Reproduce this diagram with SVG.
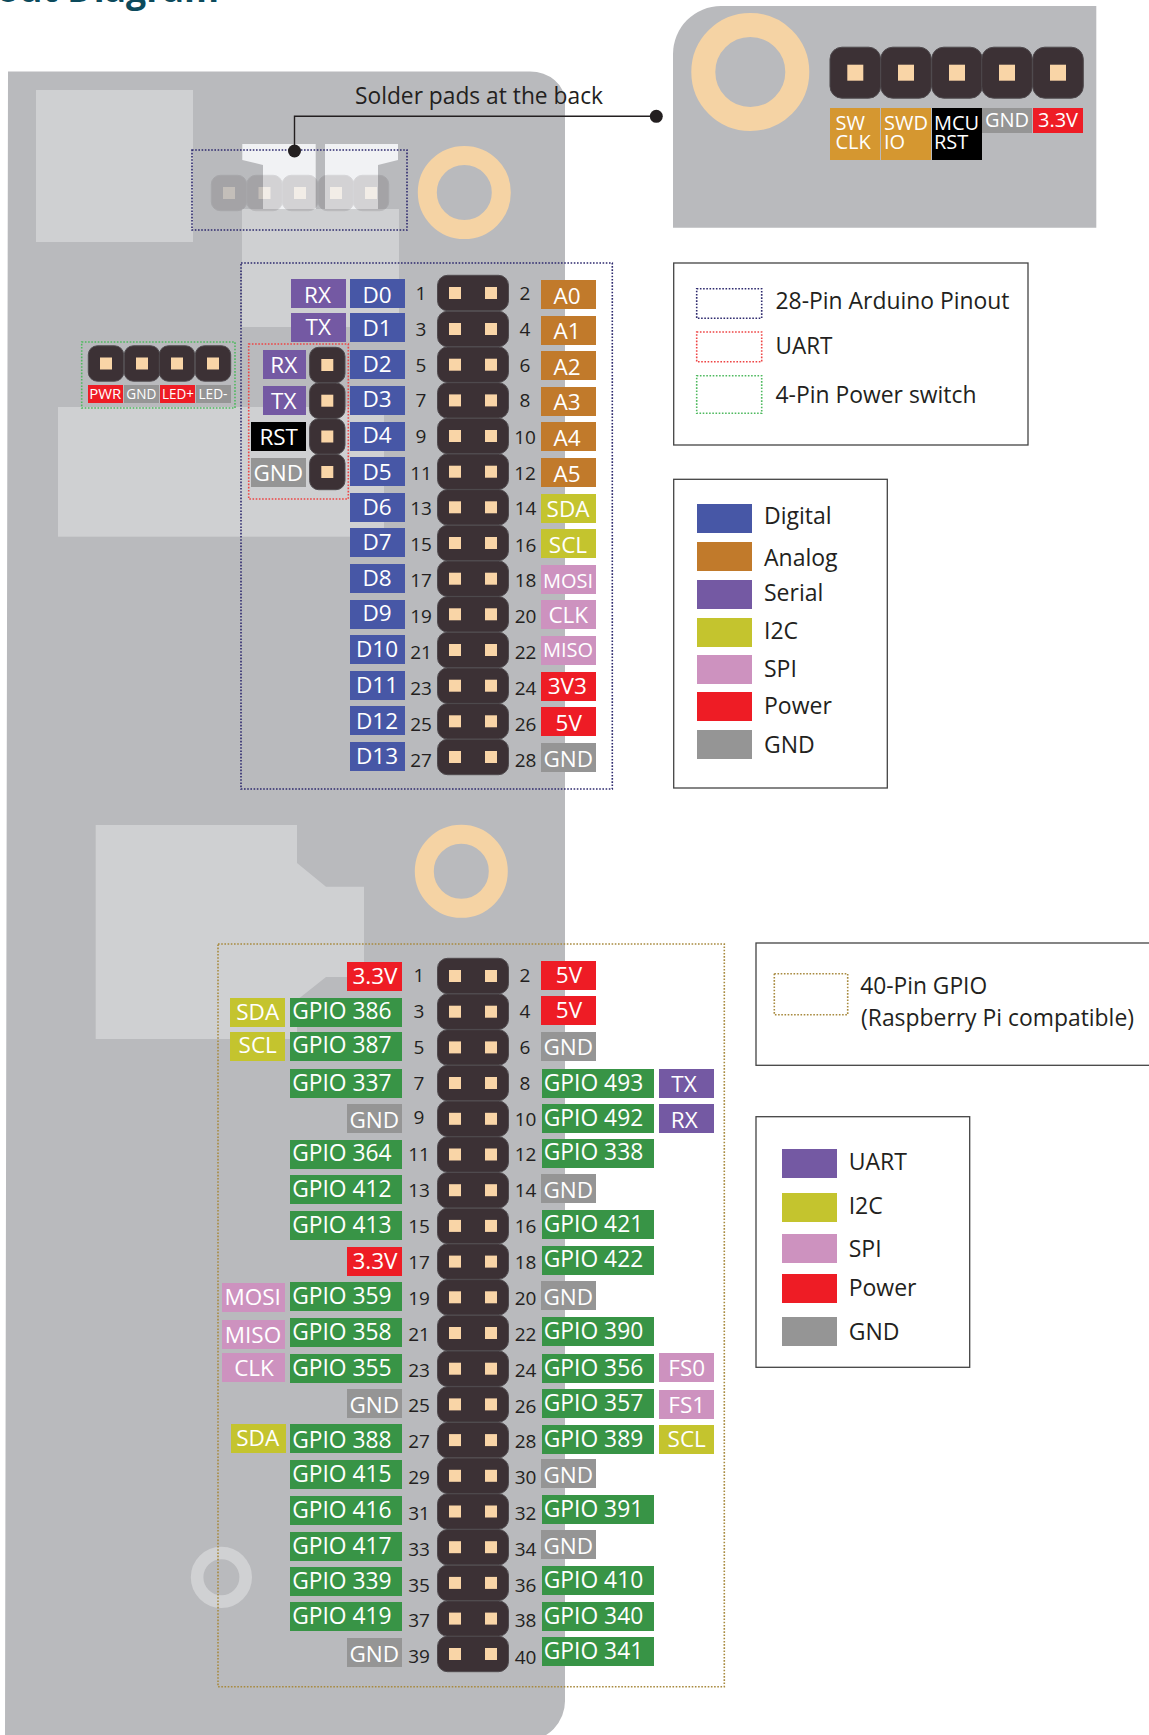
<svg xmlns="http://www.w3.org/2000/svg" xmlns:xlink="http://www.w3.org/1999/xlink" width="1149" height="1735" viewBox="0 0 1149 1735">
<style>
text{font-family:"Open Sans","Noto Sans","Liberation Sans",sans-serif}
.board{fill:#b9babd}
.lite{fill:#cfd0d2}
.wht{fill:#f1f2f4}
.ring{fill:none;stroke:#f5d3a4}
.pu{fill:#7459a3}.bl{fill:#4757a6}.or{fill:#c17a2b}.ye{fill:#c4c42e}.pk{fill:#cd92bf}.rd{fill:#ee1c25}.gy{fill:#959595}.gr{fill:#389446}.bk{fill:#000}.sw{fill:#d59730}
.w{fill:#fff;font-size:22.500px;text-anchor:middle}
.g{fill:#fff;font-size:22.800px}
.s{fill:#fff;font-size:20px;text-anchor:middle}
.m{fill:#fff;font-size:14px;text-anchor:middle}
.c{fill:#fff;font-size:20px}
.n{fill:#231f20;font-size:19px;text-anchor:middle}
.t{fill:#231f20;font-size:23px}
.box{fill:#fff;stroke:#444;stroke-width:1.3}
.d{fill:none;stroke-width:1.600;stroke-dasharray:1.600 1.600}
.navy{stroke:#2e2a6e}.red{stroke:#ee4444}.grn{stroke:#4fb95f}.gld{stroke:#a88a3f}
.hd{fill:#3c3135;stroke:#4f4a4e;stroke-width:1}
.pad{fill:#f9d5a7}
.lead{fill:none;stroke:#231f20;stroke-width:1.4}
</style>
<defs>
<g id="r2"><rect class="hd" x="437.500" y="-17.700" width="71" height="35.400" rx="10"/><rect class="pad" x="449" y="-6" width="12" height="12"/><rect class="pad" x="485" y="-6" width="12" height="12"/></g>
<g id="r1"><rect class="hd" x="-17.700" y="-17.700" width="35.400" height="35.400" rx="9"/><rect class="pad" x="-6" y="-6" width="12" height="12"/></g>
<g id="r5"><rect class="hd" x="-25.300" y="-25.500" width="50.600" height="51" rx="12"/><rect class="pad" x="-8" y="-8" width="16" height="16"/></g>
</defs>

<g id="title"><text x="-3" y="2" font-size="36" font-weight="700" fill="#0c4a5c" textLength="222" lengthAdjust="spacingAndGlyphs">out Diagram</text></g>

<g id="board">
<path class="board" d="M8 71.500H530A35 30 0 0 1 565 101.500V1700A40 40 0 0 1 525 1741H5Z"/>
<rect class="lite" x="36" y="90" width="157" height="152"/>
<path class="wht" d="M242.300 144H315.700V209H263V165L242.300 160Z"/>
<path class="wht" d="M325 144H398V160L378 165V209H325Z"/>
<rect class="lite" x="242" y="209" width="157" height="118"/>
<rect class="lite" x="58" y="407" width="326" height="129.700"/>
<path class="lite" d="M95.700 825H297V863L326 886.700H364V977H326L297 1000V1039H95.700Z"/>
<circle class="ring" cx="464.300" cy="192.500" r="37" stroke-width="19"/>
<circle class="ring" cx="461.300" cy="871.300" r="37" stroke-width="19"/>
<circle cx="221.400" cy="1577.300" r="24.300" fill="none" stroke="#d0d1d3" stroke-width="12.600"/>
</g>

<g id="solder-pads" opacity=".16">
<use xlink:href="#r1" href="#r1" x="229" y="193"/><use xlink:href="#r1" href="#r1" x="264.500" y="193"/><use xlink:href="#r1" href="#r1" x="300" y="193"/><use xlink:href="#r1" href="#r1" x="336" y="193"/><use xlink:href="#r1" href="#r1" x="371" y="193"/>
</g>

<g id="outlines">
<rect class="d navy" x="192" y="150" width="215" height="80"/>
<rect class="d navy" x="241" y="263" width="371.300" height="526"/>
<rect class="d red" x="248.700" y="344" width="99.600" height="155"/>
<rect class="d grn" x="81.700" y="342" width="153.300" height="66"/>
<rect class="d gld" x="218" y="944" width="506.300" height="742.700"/>
</g>

<g id="connectors">
<path class="lead" d="M294.500 151V116.300H656"/>
<circle cx="294.500" cy="151" r="6.500" fill="#231f20"/>
<circle cx="656.300" cy="116.300" r="6.500" fill="#231f20"/>
<text class="t" x="355" y="104" textLength="248" lengthAdjust="spacingAndGlyphs">Solder pads at the back</text>
</g>

<g id="swd-card">
<path class="board" d="M673 54A48 48 0 0 1 721 6H1096.300V227.700H673Z"/>
<circle class="ring" cx="750.300" cy="72" r="47" stroke-width="24"/>
<use xlink:href="#r5" href="#r5" x="855.300" y="72.700"/><use xlink:href="#r5" href="#r5" x="906" y="72.700"/><use xlink:href="#r5" href="#r5" x="957" y="72.700"/><use xlink:href="#r5" href="#r5" x="1007" y="72.700"/><use xlink:href="#r5" href="#r5" x="1058" y="72.700"/>
<rect class="sw" x="830" y="108" width="50" height="52"/><text class="c" x="835.500" y="130">SW</text><text class="c" x="835.500" y="149">CLK</text>
<rect class="sw" x="881" y="108" width="50" height="52"/><text class="c" x="884" y="130">SWD</text><text class="c" x="884" y="149">IO</text>
<rect class="bk" x="932" y="108" width="50" height="52"/><text class="c" x="934" y="130">MCU</text><text class="c" x="934" y="149">RST</text>
<rect class="gy" x="982" y="108" width="50" height="25"/><text class="c" x="1007" y="127" text-anchor="middle">GND</text>
<rect class="rd" x="1033" y="108" width="50" height="25"/><text class="c" x="1058" y="127" text-anchor="middle">3.3V</text>
</g>

<g id="power-switch">
<use xlink:href="#r1" href="#r1" x="106" y="363.500"/><use xlink:href="#r1" href="#r1" x="142" y="363.500"/><use xlink:href="#r1" href="#r1" x="177" y="363.500"/><use xlink:href="#r1" href="#r1" x="213" y="363.500"/>
<rect class="rd" x="88" y="385" width="35" height="18"/><text class="m" x="105.300" y="398.500" textLength="32" lengthAdjust="spacingAndGlyphs">PWR</text>
<rect class="gy" x="124" y="385" width="35" height="18"/><text class="m" x="141.300" y="398.500" textLength="30" lengthAdjust="spacingAndGlyphs">GND</text>
<rect class="rd" x="160" y="385" width="35" height="18"/><text class="m" x="178" y="398.500" textLength="32" lengthAdjust="spacingAndGlyphs">LED+</text>
<rect class="gy" x="196" y="385" width="35" height="18"/><text class="m" x="213" y="398.500" textLength="29" lengthAdjust="spacingAndGlyphs">LED-</text>
</g>

<g id="uart-header">
<use xlink:href="#r1" href="#r1" x="327.300" y="365"/><use xlink:href="#r1" href="#r1" x="327.300" y="400.700"/><use xlink:href="#r1" href="#r1" x="327.300" y="436.500"/><use xlink:href="#r1" href="#r1" x="327.300" y="472"/>
<rect class="pu" x="263" y="350" width="43" height="29"/><text class="w" x="283.700" y="373.300">RX</text>
<rect class="pu" x="263" y="386" width="43" height="29"/><text class="w" x="283.700" y="409">TX</text>
<rect class="bk" x="251" y="422" width="55" height="29"/><text class="w" x="278.700" y="445">RST</text>
<rect class="gy" x="251" y="458" width="55" height="29"/><text class="w" x="278.300" y="480.500">GND</text>
</g>

<g id="arduino-header">
<use xlink:href="#r2" href="#r2" y="293"/><use xlink:href="#r2" href="#r2" y="329"/><use xlink:href="#r2" href="#r2" y="364.700"/><use xlink:href="#r2" href="#r2" y="400.400"/><use xlink:href="#r2" href="#r2" y="436"/><use xlink:href="#r2" href="#r2" y="471.700"/><use xlink:href="#r2" href="#r2" y="507.300"/><use xlink:href="#r2" href="#r2" y="543"/><use xlink:href="#r2" href="#r2" y="578.700"/><use xlink:href="#r2" href="#r2" y="614.300"/><use xlink:href="#r2" href="#r2" y="650"/><use xlink:href="#r2" href="#r2" y="685.700"/><use xlink:href="#r2" href="#r2" y="721.300"/><use xlink:href="#r2" href="#r2" y="757"/>
</g>
<g id="arduino-numbers">
<text class="n" x="421" y="300">1</text><text class="n" x="421" y="335.700">3</text><text class="n" x="421" y="371.700">5</text><text class="n" x="421" y="407.300">7</text><text class="n" x="421" y="443.300">9</text><text class="n" x="421" y="480">11</text><text class="n" x="421" y="515.300">13</text><text class="n" x="421" y="550.700">15</text><text class="n" x="421" y="586.700">17</text><text class="n" x="421" y="622.700">19</text><text class="n" x="421" y="658.700">21</text><text class="n" x="421" y="694.700">23</text><text class="n" x="421" y="730.700">25</text><text class="n" x="421" y="766.700">27</text>
<text class="n" x="525" y="300">2</text><text class="n" x="525" y="335.700">4</text><text class="n" x="525" y="371.700">6</text><text class="n" x="525" y="407.300">8</text><text class="n" x="525" y="444.300">10</text><text class="n" x="525" y="480">12</text><text class="n" x="525.500" y="515.300">14</text><text class="n" x="525.500" y="551.700">16</text><text class="n" x="525.500" y="586.700">18</text><text class="n" x="525.500" y="622.700">20</text><text class="n" x="525.500" y="658.700">22</text><text class="n" x="525.500" y="694.700">24</text><text class="n" x="525.500" y="730.700">26</text><text class="n" x="525.500" y="766.700">28</text>
</g>
<g id="arduino-left">
<rect class="pu" x="291" y="279" width="55" height="29"/><text class="w" x="317.500" y="302.700">RX</text>
<rect class="pu" x="291" y="313" width="55" height="29"/><text class="w" x="318.300" y="335">TX</text>
<rect class="bl" x="350" y="279" width="55" height="29"/><text class="w" x="377" y="302.700">D0</text>
<rect class="bl" x="350" y="313" width="55" height="29"/><text class="w" x="377" y="335.700">D1</text>
<rect class="bl" x="350" y="350" width="55" height="29"/><text class="w" x="377" y="372.300">D2</text>
<rect class="bl" x="350" y="386" width="55" height="29"/><text class="w" x="377" y="407.300">D3</text>
<rect class="bl" x="350" y="422" width="55" height="29"/><text class="w" x="377" y="443.300">D4</text>
<rect class="bl" x="350" y="457" width="55" height="29"/><text class="w" x="377" y="480">D5</text>
<rect class="bl" x="350" y="493" width="55" height="29"/><text class="w" x="377" y="514.700">D6</text>
<rect class="bl" x="350" y="528" width="55" height="29"/><text class="w" x="377" y="550.300">D7</text>
<rect class="bl" x="350" y="564" width="55" height="29"/><text class="w" x="377" y="585.700">D8</text>
<rect class="bl" x="350" y="600" width="55" height="29"/><text class="w" x="377" y="621.300">D9</text>
<rect class="bl" x="350" y="635" width="55" height="29"/><text class="w" x="377" y="657.300">D10</text>
<rect class="bl" x="350" y="671" width="55" height="29"/><text class="w" x="377" y="693.300">D11</text>
<rect class="bl" x="350" y="706" width="55" height="29"/><text class="w" x="377" y="729.300">D12</text>
<rect class="bl" x="350" y="742" width="55" height="29"/><text class="w" x="377" y="764.300">D13</text>
</g>
<g id="arduino-right">
<rect class="or" x="541" y="280" width="55" height="29"/><text class="w" x="567" y="304">A0</text>
<rect class="or" x="541" y="316" width="55" height="29"/><text class="w" x="567" y="339.300">A1</text>
<rect class="or" x="541" y="351" width="55" height="29"/><text class="w" x="567" y="375">A2</text>
<rect class="or" x="541" y="387" width="55" height="29"/><text class="w" x="567" y="410">A3</text>
<rect class="or" x="541" y="422" width="55" height="29"/><text class="w" x="567" y="446">A4</text>
<rect class="or" x="541" y="458" width="55" height="29"/><text class="w" x="567" y="482.300">A5</text>
<rect class="ye" x="541" y="494" width="55" height="29"/><text class="w" x="568" y="516.700">SDA</text>
<rect class="ye" x="541" y="529" width="55" height="29"/><text class="w" x="568" y="552.700">SCL</text>
<rect class="pk" x="541" y="565" width="55" height="29"/><text class="s" x="568" y="588">MOSI</text>
<rect class="pk" x="541" y="600" width="55" height="29"/><text class="w" x="568.300" y="622.700">CLK</text>
<rect class="pk" x="541" y="636" width="55" height="29"/><text class="s" x="568" y="657.300">MISO</text>
<rect class="rd" x="541" y="672" width="55" height="29"/><text class="w" x="567.300" y="694.300">3V3</text>
<rect class="rd" x="541" y="707" width="55" height="29"/><text class="w" x="568.700" y="730.700">5V</text>
<rect class="gy" x="541" y="743" width="55" height="29"/><text class="w" x="568.300" y="766.700">GND</text>
</g>

<g id="gpio-header">
<use xlink:href="#r2" href="#r2" y="976"/><use xlink:href="#r2" href="#r2" y="1011.700"/><use xlink:href="#r2" href="#r2" y="1047.400"/><use xlink:href="#r2" href="#r2" y="1083"/><use xlink:href="#r2" href="#r2" y="1118.800"/><use xlink:href="#r2" href="#r2" y="1154.500"/><use xlink:href="#r2" href="#r2" y="1190.200"/><use xlink:href="#r2" href="#r2" y="1225.900"/><use xlink:href="#r2" href="#r2" y="1261.600"/><use xlink:href="#r2" href="#r2" y="1297.300"/><use xlink:href="#r2" href="#r2" y="1333"/><use xlink:href="#r2" href="#r2" y="1368.700"/><use xlink:href="#r2" href="#r2" y="1404.400"/><use xlink:href="#r2" href="#r2" y="1440.100"/><use xlink:href="#r2" href="#r2" y="1475.800"/><use xlink:href="#r2" href="#r2" y="1511.500"/><use xlink:href="#r2" href="#r2" y="1547.200"/><use xlink:href="#r2" href="#r2" y="1582.900"/><use xlink:href="#r2" href="#r2" y="1618.600"/><use xlink:href="#r2" href="#r2" y="1654"/>
</g>
<g id="gpio-numbers">
<text class="n" x="419" y="981.700">1</text><text class="n" x="419" y="1017.700">3</text><text class="n" x="419" y="1053.700">5</text><text class="n" x="419" y="1089.700">7</text><text class="n" x="419" y="1124.300">9</text><text class="n" x="419" y="1160.700">11</text><text class="n" x="419" y="1196.700">13</text><text class="n" x="419" y="1232.700">15</text><text class="n" x="419" y="1269">17</text><text class="n" x="419" y="1304.700">19</text><text class="n" x="419" y="1340.700">21</text><text class="n" x="419" y="1376.700">23</text><text class="n" x="419" y="1411.700">25</text><text class="n" x="419" y="1447.700">27</text><text class="n" x="419" y="1483.700">29</text><text class="n" x="419" y="1520">31</text><text class="n" x="419" y="1556">33</text><text class="n" x="419" y="1591.700">35</text><text class="n" x="419" y="1627.300">37</text><text class="n" x="419" y="1663.300">39</text>
<text class="n" x="525" y="981.700">2</text><text class="n" x="525" y="1017.700">4</text><text class="n" x="525" y="1053.700">6</text><text class="n" x="525" y="1089.700">8</text><text class="n" x="525.500" y="1125.700">10</text><text class="n" x="525.500" y="1160.700">12</text><text class="n" x="525.500" y="1196.700">14</text><text class="n" x="525.500" y="1232.700">16</text><text class="n" x="525.500" y="1269">18</text><text class="n" x="525.500" y="1304.700">20</text><text class="n" x="525.500" y="1340.700">22</text><text class="n" x="525.500" y="1376.700">24</text><text class="n" x="525.500" y="1412.700">26</text><text class="n" x="525.500" y="1447.700">28</text><text class="n" x="525.500" y="1483.700">30</text><text class="n" x="525.500" y="1520">32</text><text class="n" x="525.500" y="1556">34</text><text class="n" x="525.500" y="1591.700">36</text><text class="n" x="525.500" y="1627.300">38</text><text class="n" x="525.500" y="1664">40</text>
</g>
<g id="gpio-left">
<rect class="rd" x="347" y="962" width="55" height="29"/><text class="w" x="375" y="984">3.3V</text>
<rect class="ye" x="230" y="998" width="55" height="29"/><text class="w" x="257.700" y="1020">SDA</text>
<rect class="gr" x="290" y="998" width="112" height="29"/><text class="g" x="292.200" y="1018.700">GPIO 386</text>
<rect class="ye" x="230" y="1032" width="55" height="29"/><text class="w" x="257.700" y="1053">SCL</text>
<rect class="gr" x="290" y="1032" width="112" height="29"/><text class="g" x="292.200" y="1052.700">GPIO 387</text>
<rect class="gr" x="290" y="1069" width="112" height="29"/><text class="g" x="292.200" y="1091">GPIO 337</text>
<rect class="gy" x="347" y="1104" width="55" height="29"/><text class="w" x="374.300" y="1127.700">GND</text>
<rect class="gr" x="290" y="1140" width="112" height="29"/><text class="g" x="292.200" y="1161.300">GPIO 364</text>
<rect class="gr" x="290" y="1175" width="112" height="29"/><text class="g" x="292.200" y="1196.700">GPIO 412</text>
<rect class="gr" x="290" y="1211" width="112" height="29"/><text class="g" x="292.200" y="1232.700">GPIO 413</text>
<rect class="rd" x="347" y="1247" width="55" height="29"/><text class="w" x="375" y="1269">3.3V</text>
<rect class="pk" x="222" y="1283" width="63" height="29"/><text class="w" x="252.700" y="1304.700">MOSI</text>
<rect class="gr" x="290" y="1282" width="112" height="29"/><text class="g" x="292.200" y="1303.700">GPIO 359</text>
<rect class="pk" x="222" y="1320" width="63" height="29"/><text class="w" x="253" y="1342.700">MISO</text>
<rect class="gr" x="290" y="1318" width="112" height="29"/><text class="g" x="292.200" y="1339.700">GPIO 358</text>
<rect class="pk" x="222" y="1353" width="63" height="29"/><text class="w" x="254" y="1375.700">CLK</text>
<rect class="gr" x="290" y="1354" width="112" height="29"/><text class="g" x="292.200" y="1375.700">GPIO 355</text>
<rect class="gy" x="347" y="1389" width="55" height="29"/><text class="w" x="374.300" y="1412.700">GND</text>
<rect class="ye" x="231" y="1424" width="55" height="29"/><text class="w" x="257.700" y="1445.700">SDA</text>
<rect class="gr" x="290" y="1424" width="112" height="29"/><text class="g" x="292.200" y="1447.700">GPIO 388</text>
<rect class="gr" x="290" y="1460" width="112" height="29"/><text class="g" x="292.200" y="1481.700">GPIO 415</text>
<rect class="gr" x="290" y="1496" width="112" height="29"/><text class="g" x="292.200" y="1517.700">GPIO 416</text>
<rect class="gr" x="290" y="1532" width="112" height="29"/><text class="g" x="292.200" y="1553.700">GPIO 417</text>
<rect class="gr" x="290" y="1567" width="112" height="29"/><text class="g" x="292.200" y="1588.700">GPIO 339</text>
<rect class="gr" x="290" y="1602" width="112" height="29"/><text class="g" x="292.200" y="1623.700">GPIO 419</text>
<rect class="gy" x="347" y="1638" width="55" height="29"/><text class="w" x="374.300" y="1661.700">GND</text>
</g>
<g id="gpio-right">
<rect class="rd" x="541" y="961" width="55" height="29"/><text class="w" x="569" y="983">5V</text>
<rect class="rd" x="541" y="996" width="55" height="29"/><text class="w" x="569" y="1018">5V</text>
<rect class="gy" x="541" y="1032" width="55" height="29"/><text class="w" x="568.300" y="1054.700">GND</text>
<rect class="gr" x="542" y="1069" width="112" height="29"/><text class="g" x="543.800" y="1091">GPIO 493</text>
<rect class="pu" x="659" y="1069" width="55" height="29"/><text class="w" x="684" y="1092">TX</text>
<rect class="gr" x="542" y="1104" width="112" height="29"/><text class="g" x="543.800" y="1126">GPIO 492</text>
<rect class="pu" x="659" y="1104" width="55" height="29"/><text class="w" x="684.300" y="1128">RX</text>
<rect class="gr" x="542" y="1139" width="112" height="29"/><text class="g" x="543.800" y="1160.300">GPIO 338</text>
<rect class="gy" x="541" y="1174" width="55" height="29"/><text class="w" x="568.300" y="1197.700">GND</text>
<rect class="gr" x="542" y="1210" width="112" height="29"/><text class="g" x="543.800" y="1231.700">GPIO 421</text>
<rect class="gr" x="542" y="1246" width="112" height="29"/><text class="g" x="543.800" y="1266.700">GPIO 422</text>
<rect class="gy" x="541" y="1281" width="55" height="29"/><text class="w" x="568.300" y="1304.700">GND</text>
<rect class="gr" x="542" y="1317" width="112" height="29"/><text class="g" x="543.800" y="1338.700">GPIO 390</text>
<rect class="gr" x="542" y="1354" width="112" height="29"/><text class="g" x="543.800" y="1375.700">GPIO 356</text>
<rect class="pk" x="659" y="1353" width="55" height="29"/><text class="w" x="686.700" y="1375.700">FS0</text>
<rect class="gr" x="542" y="1389" width="112" height="29"/><text class="g" x="543.800" y="1410.700">GPIO 357</text>
<rect class="pk" x="659" y="1390" width="55" height="29"/><text class="w" x="686.700" y="1412.700">FS1</text>
<rect class="gr" x="542" y="1425" width="112" height="29"/><text class="g" x="543.800" y="1446.700">GPIO 389</text>
<rect class="ye" x="659" y="1425" width="55" height="29"/><text class="w" x="686.700" y="1446.700">SCL</text>
<rect class="gy" x="541" y="1459" width="55" height="29"/><text class="w" x="568.300" y="1482.700">GND</text>
<rect class="gr" x="542" y="1495" width="112" height="29"/><text class="g" x="543.800" y="1516.700">GPIO 391</text>
<rect class="gy" x="541" y="1530" width="55" height="29"/><text class="w" x="568.300" y="1553.700">GND</text>
<rect class="gr" x="542" y="1566" width="112" height="29"/><text class="g" x="543.800" y="1587.700">GPIO 410</text>
<rect class="gr" x="542" y="1602" width="112" height="29"/><text class="g" x="543.800" y="1623.700">GPIO 340</text>
<rect class="gr" x="542" y="1637" width="112" height="29"/><text class="g" x="543.800" y="1658.700">GPIO 341</text>
</g>

<g id="legend-outlines">
<rect class="box" x="673.700" y="263" width="354.300" height="182"/>
<rect class="d navy" x="696.700" y="288.700" width="65" height="29.600"/><text class="t" x="775.500" y="309.300" textLength="234" lengthAdjust="spacingAndGlyphs">28-Pin Arduino Pinout</text>
<rect class="d red" x="696.700" y="332" width="65" height="29.700"/><text class="t" x="775.500" y="354" textLength="57" lengthAdjust="spacingAndGlyphs">UART</text>
<rect class="d grn" x="696.700" y="375.700" width="65" height="37.600"/><text class="t" x="775.500" y="403" textLength="201" lengthAdjust="spacingAndGlyphs">4-Pin Power switch</text>
</g>
<g id="legend-arduino">
<rect class="box" x="673.700" y="479.300" width="213.600" height="308.700"/>
<rect class="bl" x="697" y="504" width="55" height="29"/><text class="t" x="764" y="524">Digital</text>
<rect class="or" x="697" y="542" width="55" height="29"/><text class="t" x="764" y="565.700">Analog</text>
<rect class="pu" x="697" y="580" width="55" height="29"/><text class="t" x="764" y="600.700">Serial</text>
<rect class="ye" x="697" y="618" width="55" height="29"/><text class="t" x="764" y="639.300">I2C</text>
<rect class="pk" x="697" y="655" width="55" height="29"/><text class="t" x="764" y="677.300">SPI</text>
<rect class="rd" x="697" y="692" width="55" height="29"/><text class="t" x="764" y="714">Power</text>
<rect class="gy" x="697" y="730" width="55" height="29"/><text class="t" x="764" y="753">GND</text>
</g>
<g id="legend-gpio-outline">
<rect class="box" x="756" y="943" width="420" height="122.300"/>
<rect class="d gld" x="774.300" y="973.700" width="73.400" height="41"/>
<text class="t" x="860.200" y="994" textLength="127" lengthAdjust="spacingAndGlyphs">40-Pin GPIO</text>
<text class="t" x="861" y="1026" textLength="273" lengthAdjust="spacingAndGlyphs">(Raspberry Pi compatible)</text>
</g>
<g id="legend-gpio">
<rect class="box" x="756" y="1116.700" width="213.700" height="250.600"/>
<rect class="pu" x="782" y="1149" width="55" height="29"/><text class="t" x="848.700" y="1170">UART</text>
<rect class="ye" x="782" y="1193" width="55" height="29"/><text class="t" x="848.700" y="1214">I2C</text>
<rect class="pk" x="782" y="1234" width="55" height="29"/><text class="t" x="848.700" y="1257">SPI</text>
<rect class="rd" x="782" y="1274" width="55" height="29"/><text class="t" x="848.700" y="1296">Power</text>
<rect class="gy" x="782" y="1317" width="55" height="29"/><text class="t" x="848.700" y="1340">GND</text>
</g>
</svg>
